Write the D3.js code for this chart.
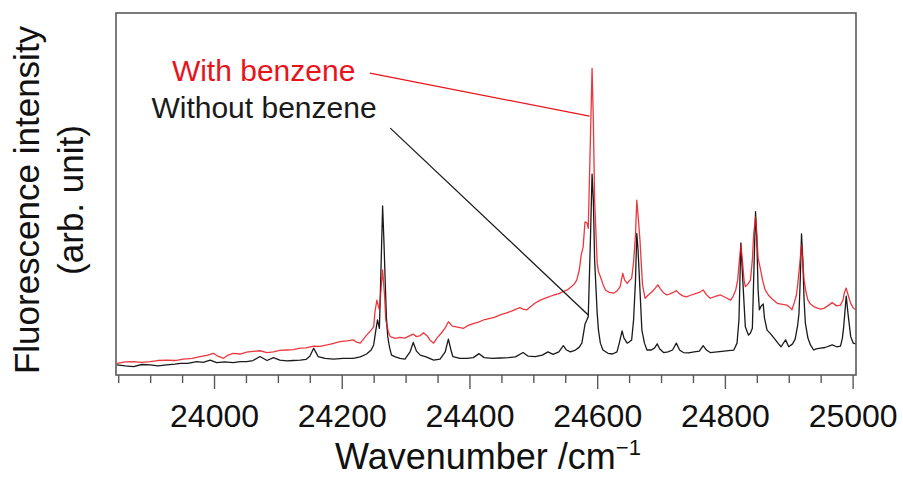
<!DOCTYPE html>
<html>
<head>
<meta charset="utf-8">
<script src="https://cdn.jsdelivr.net/npm/d3@7"></script>
<style>
  html, body { margin: 0; padding: 0; background: #fff; }
  svg { display: block; }
  text { font-family: "Liberation Sans", Arial, Helvetica, sans-serif; }
</style>
</head>
<body>
<svg id="chart" width="903" height="483"></svg>
<script>
// ---------- data (wavenumber / cm^-1, intensity in arb. units 0-100) ----------
const withoutBenzene = [[23848,2.8],[23861,2.5],[23874,2.3],[23887,2.9],[23900,2.8],[23912,2.5],[23926,2.8],[23939,3.0],[23947,3.2],[23959,3.2],[23973,3.7],[23983,3.5],[23994,4.1],[24004,3.4],[24017,3.6],[24030,3.4],[24041,3.7],[24051,3.7],[24061,4.0],[24072,5.1],[24083,4.0],[24093,4.8],[24103,4.1],[24114,3.9],[24124,4.0],[24135,4.1],[24144,4.3],[24150,5.2],[24156,7.4],[24160,6.1],[24163,5.1],[24174,4.6],[24187,4.4],[24202,4.6],[24218,4.6],[24229,5.0],[24239,5.8],[24246,6.9],[24250,8.3],[24253,11.9],[24256,15.2],[24259,12.9],[24261,26.2],[24264,46.7],[24266,37.3],[24268,26.2],[24270,15.7],[24272,10.6],[24275,7.5],[24278,5.5],[24284,5.0],[24291,4.6],[24299,4.4],[24307,6.4],[24312,9.0],[24317,6.6],[24323,5.5],[24332,5.0],[24344,4.1],[24354,4.4],[24362,6.4],[24367,9.9],[24371,6.9],[24374,5.1],[24385,4.6],[24396,4.6],[24406,4.8],[24415,5.9],[24423,4.8],[24436,4.6],[24448,4.7],[24461,4.8],[24472,5.0],[24484,6.2],[24492,5.2],[24503,5.1],[24514,5.5],[24523,6.4],[24531,5.7],[24540,6.4],[24547,8.1],[24552,6.9],[24558,6.4],[24566,6.9],[24572,7.7],[24576,8.8],[24579,11.9],[24581,14.1],[24585,15.7],[24586,16.1],[24589,34.5],[24592,55.5],[24594,48.3],[24596,31.8],[24600,17.1],[24602,12.4],[24605,8.8],[24609,6.9],[24617,6.0],[24624,5.8],[24631,6.4],[24635,9.1],[24639,12.2],[24642,10.2],[24647,8.8],[24650,9.1],[24654,9.7],[24657,15.2],[24660,26.2],[24662,39.1],[24664,34.5],[24667,23.5],[24670,12.4],[24674,8.8],[24678,6.9],[24685,6.9],[24690,7.5],[24694,8.6],[24698,7.2],[24704,6.2],[24711,6.4],[24718,6.9],[24724,8.8],[24729,6.9],[24735,6.2],[24743,6.1],[24752,6.4],[24760,6.6],[24766,8.1],[24771,6.9],[24777,6.2],[24788,6.4],[24799,6.6],[24809,6.8],[24814,6.9],[24819,8.8],[24822,15.2],[24825,36.5],[24828,26.2],[24832,13.3],[24837,11.0],[24840,11.6],[24843,12.9],[24845,26.2],[24848,45.1],[24850,37.3],[24852,23.5],[24854,18.0],[24857,19.1],[24860,19.6],[24862,15.7],[24866,12.4],[24871,11.5],[24877,10.2],[24884,8.6],[24888,7.8],[24895,9.7],[24900,7.8],[24906,8.6],[24910,9.9],[24914,13.8],[24916,17.0],[24918,26.2],[24920,39.0],[24922,31.8],[24924,20.7],[24926,14.3],[24930,10.2],[24934,8.3],[24939,6.9],[24943,7.2],[24950,7.4],[24957,7.6],[24968,8.3],[24975,7.8],[24981,8.0],[24984,10.2],[24986,13.3],[24990,21.8],[24993,16.6],[24997,10.6],[25001,8.8],[25005,8.6]];

const withBenzene = [[23848,3.2],[23861,3.6],[23874,3.7],[23887,3.5],[23900,3.7],[23912,4.0],[23926,4.1],[23939,4.0],[23952,4.4],[23966,4.6],[23978,5.1],[23989,5.4],[23999,6.0],[24006,5.2],[24015,4.6],[24022,5.5],[24030,6.0],[24041,5.8],[24051,6.3],[24061,6.5],[24072,6.7],[24083,6.2],[24093,6.4],[24103,6.8],[24114,6.9],[24124,7.0],[24135,7.4],[24144,7.5],[24156,8.0],[24166,7.9],[24177,8.3],[24186,8.7],[24197,9.2],[24208,9.4],[24218,9.7],[24223,9.1],[24229,8.8],[24234,9.9],[24239,11.0],[24245,12.2],[24250,13.3],[24252,17.4],[24255,20.7],[24257,19.3],[24259,18.0],[24262,24.9],[24264,29.0],[24267,22.1],[24269,15.2],[24273,11.9],[24276,10.6],[24284,10.1],[24291,10.4],[24299,10.2],[24306,10.8],[24312,11.3],[24317,10.6],[24323,10.9],[24328,11.7],[24334,10.8],[24338,9.7],[24344,8.8],[24349,10.2],[24356,11.6],[24362,13.0],[24367,14.7],[24373,13.5],[24379,13.3],[24385,13.1],[24391,12.9],[24398,13.7],[24406,14.2],[24414,14.6],[24422,15.2],[24429,15.5],[24439,15.9],[24448,16.6],[24457,17.1],[24467,17.7],[24473,18.2],[24479,18.6],[24485,18.1],[24490,18.0],[24495,18.8],[24503,19.9],[24511,20.7],[24520,21.3],[24532,22.1],[24539,22.4],[24545,22.9],[24553,23.5],[24559,24.3],[24564,25.1],[24568,26.2],[24572,29.0],[24575,33.1],[24578,35.4],[24580,40.1],[24581,42.3],[24584,42.0],[24586,40.5],[24589,62.2],[24592,84.7],[24594,70.4],[24596,48.3],[24600,30.9],[24602,28.5],[24605,27.2],[24609,25.1],[24613,23.5],[24619,22.8],[24626,22.6],[24631,23.2],[24636,24.4],[24640,28.1],[24643,26.2],[24647,25.3],[24650,26.0],[24654,26.7],[24657,31.2],[24660,38.7],[24662,48.3],[24664,44.2],[24667,37.3],[24669,30.9],[24671,24.9],[24675,21.2],[24680,22.1],[24686,23.0],[24691,24.0],[24695,24.9],[24699,23.8],[24704,22.7],[24709,22.1],[24714,22.4],[24719,22.8],[24724,23.3],[24729,22.4],[24735,21.8],[24740,21.6],[24747,22.1],[24754,22.5],[24760,22.8],[24766,23.5],[24771,22.2],[24777,21.2],[24785,21.7],[24793,22.1],[24801,21.4],[24809,20.7],[24813,21.8],[24817,23.5],[24820,26.2],[24823,32.3],[24825,35.9],[24828,30.4],[24830,26.2],[24832,24.4],[24836,25.1],[24840,26.2],[24843,31.8],[24845,38.7],[24848,43.7],[24850,38.7],[24852,32.3],[24856,29.0],[24859,26.2],[24863,23.5],[24868,22.1],[24874,21.0],[24882,19.8],[24888,19.6],[24897,19.3],[24901,18.8],[24905,18.0],[24909,20.2],[24912,22.1],[24914,24.9],[24917,30.4],[24920,35.9],[24922,31.5],[24924,26.2],[24927,22.9],[24930,20.7],[24934,19.6],[24939,18.9],[24945,18.5],[24950,18.2],[24955,18.4],[24961,19.1],[24968,20.0],[24975,19.1],[24981,19.3],[24985,20.7],[24987,22.7],[24990,24.0],[24993,22.1],[24997,19.8],[25001,18.5],[25005,18.0]];

const majorTicks = [24000, 24200, 24400, 24600, 24800, 25000];
const minorTicks = [23850, 23900, 23950, 24050, 24100, 24150, 24250, 24300, 24350, 24450, 24500, 24550, 24650, 24700, 24750, 24850, 24900, 24950];

// annotation labels with leader lines (data coordinates)
const seriesLabels = ["With benzene", "Without benzene"];
const labelAnchors = [[23934, 81.2], [23902, 71.0]];
const leaderLines = [
  [[24244, 83.4], [24588, 71.5]],
  [[24276, 68.2], [24586, 16.6]]
];

// ---------- layout ----------
const W = 903, H = 483;
const plot = { left: 116, right: 856, top: 13, bottom: 375 };
const red = "#e8141c", black = "#1a1a1a", frame = "#5a5a5a";

const svg = d3.select("#chart");

const x = d3.scaleLinear().domain([23846.5, 25005.3]).range([plot.left, plot.right]);
const y = d3.scaleLinear().domain([0, 100]).range([plot.bottom, plot.top]);

svg.append("defs").append("clipPath").attr("id", "clip")
  .append("rect")
  .attr("x", plot.left).attr("y", plot.top)
  .attr("width", plot.right - plot.left).attr("height", plot.bottom - plot.top);

const line = d3.line().x(d => x(d[0])).y(d => y(d[1]));

const g = svg.append("g").attr("clip-path", "url(#clip)");
g.append("path").datum(withoutBenzene)
  .attr("d", line).attr("fill", "none")
  .attr("stroke", black).attr("stroke-width", 1.3).attr("stroke-linejoin", "round");
g.append("path").datum(withBenzene)
  .attr("d", line).attr("fill", "none")
  .attr("stroke", red).attr("stroke-width", 1.3).attr("stroke-opacity", 0.85).attr("stroke-linejoin", "round");

// frame
svg.append("rect")
  .attr("x", plot.left).attr("y", plot.top)
  .attr("width", plot.right - plot.left).attr("height", plot.bottom - plot.top)
  .attr("fill", "none").attr("stroke", frame).attr("stroke-width", 1.6);

// axes
const axMinor = d3.axisBottom(x).tickValues(minorTicks).tickSize(8).tickFormat("");
const axMajor = d3.axisBottom(x).tickValues(majorTicks).tickSize(14).tickPadding(14).tickFormat(d3.format("d"));

const gMinor = svg.append("g").attr("transform", `translate(0,${plot.bottom})`).call(axMinor);
const gMajor = svg.append("g").attr("transform", `translate(0,${plot.bottom})`).call(axMajor);
[gMinor, gMajor].forEach(a => {
  a.select(".domain").remove();
  a.selectAll(".tick line").attr("stroke", frame).attr("stroke-width", 1.4);
});
gMajor.selectAll(".tick text")
  .attr("fill", "#111").attr("font-size", 32)
  .attr("font-family", '"Liberation Sans", Arial, sans-serif')
  .attr("dy", null).attr("y", 52);

// axis titles
const xt = svg.append("text")
  .attr("x", (plot.left + plot.right) / 2 + 2).attr("y", 469)
  .attr("text-anchor", "middle").attr("font-size", 36).attr("fill", "#111");
xt.append("tspan").text("Wavenumber /cm");
xt.append("tspan").text("\u22121").attr("font-size", 22).attr("dy", -14);

const yt = svg.append("text")
  .attr("transform", "translate(39,200) rotate(-90)")
  .attr("text-anchor", "middle").attr("font-size", 35).attr("fill", "#111");
yt.append("tspan").attr("x", 0).attr("y", 0).text("Fluorescence intensity");
yt.append("tspan").attr("x", 0).attr("y", 44).text("(arb. unit)");

// annotations
const colors = [red, black];
leaderLines.forEach((seg, i) => {
  svg.append("line")
    .attr("x1", x(seg[0][0])).attr("y1", y(seg[0][1]))
    .attr("x2", x(seg[1][0])).attr("y2", y(seg[1][1]))
    .attr("stroke", colors[i]).attr("stroke-width", 1.3);
});
seriesLabels.forEach((t, i) => {
  svg.append("text")
    .attr("x", x(labelAnchors[i][0])).attr("y", y(labelAnchors[i][1]))
    .attr("font-size", 30).attr("fill", colors[i]).text(t);
});
</script>
</body>
</html>
